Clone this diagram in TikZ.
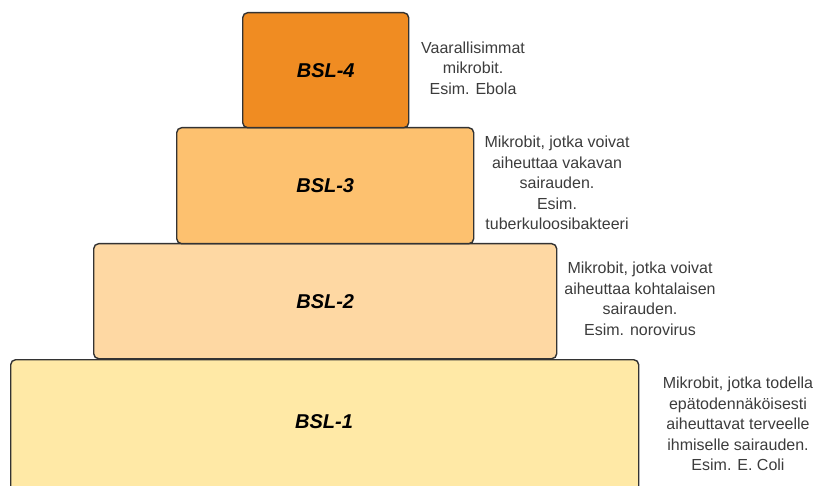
\documentclass[tikz,border=0pt]{standalone}
\usepackage{fontspec}
\setmainfont{Liberation Sans}
\usetikzlibrary{positioning}

\definecolor{bslfour}{HTML}{F08C22}
\definecolor{bslthree}{HTML}{FDC16F}
\definecolor{bsltwo}{HTML}{FED8A3}
\definecolor{bslone}{HTML}{FFE9A6}
\definecolor{edgegray}{HTML}{333333}
\definecolor{textgray}{HTML}{3C3C3C}

\begin{document}
\begin{tikzpicture}[x=1pt,y=-1pt,
        level/.style={draw=edgegray, line width=1.4pt, rounded corners=5pt,
            anchor=north west, inner sep=0pt,
            font=\fontsize{20}{24}\selectfont\bfseries\itshape},
        desc/.style={text=textgray, align=center,
            font=\fontsize{16}{20.5}\selectfont}]
        \useasboundingbox (0,0) rectangle (819,486);
        \clip (0,0) rectangle (819,486);

        % the levels, lowest first
        \node[level, fill=bslone, minimum width=628pt, minimum height=145pt] (bsl1) at (10,359) {};
        \node[font=\fontsize{20}{24}\selectfont\bfseries\itshape] (bsl1label) at (324,422) {BSL-1};
        \node[level, fill=bsltwo, minimum width=463pt, minimum height=115pt] (bsl2) at (93,243) {BSL-2};
        \node[level, fill=bslthree, minimum width=297pt, minimum height=116pt] (bsl3) at (176,127) {BSL-3};
        \node[level, fill=bslfour, minimum width=166pt, minimum height=115pt] (bsl4) at (242,12) {BSL-4};

        % the texts beside them
        \node[desc] (desc4) at (473,68) {Vaarallisimmat\\mikrobit.\\Esim. Ebola};
        \node[desc] (desc3) at (557,183) {Mikrobit, jotka voivat\\aiheuttaa vakavan\\sairauden.\\Esim.\\tuberkuloosibakteeri};
        \node[desc] (desc2) at (640,299) {Mikrobit, jotka voivat\\aiheuttaa kohtalaisen\\sairauden.\\Esim. norovirus};
        \node[desc] (desc1) at (738,424) {Mikrobit, jotka todella\\epätodennäköisesti\\aiheuttavat terveelle\\ihmiselle sairauden.\\Esim. E. Coli};
    \end{tikzpicture}
\end{document}
